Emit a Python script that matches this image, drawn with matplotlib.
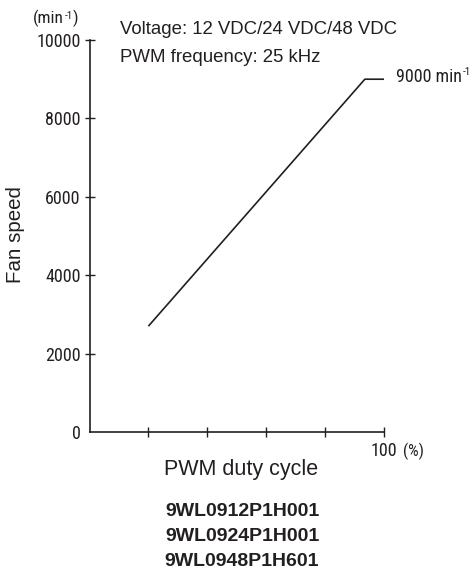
import matplotlib
matplotlib.use("Agg")
import matplotlib.pyplot as plt
from matplotlib import font_manager

# PWM duty cycle (%) vs fan speed (min^-1)
duty = [20, 93.5, 100]
speed = [2700, 9000, 9000]

yticks = [0, 2000, 4000, 6000, 8000, 10000]
xticks = [0, 20, 40, 60, 80, 100]
models = ["9WL0912P1H001", "9WL0924P1H001", "9WL0948P1H601"]

ink = "#231f20"
installed = {f.name for f in font_manager.fontManager.ttflist}
cond = [f for f in ["Roboto Condensed", "Archivo Narrow", "Liberation Sans Narrow"] if f in installed]
cond = cond[0] if cond else "DejaVu Sans"
plt.rcParams["font.family"] = ["Liberation Sans", "DejaVu Sans"]
ck = dict(fontfamily=cond, fontstretch="condensed", color=ink)

fig = plt.figure(figsize=(4.76, 5.71), dpi=100)
ax = fig.add_axes([89.5 / 476, 1 - 432 / 571, (384 - 89.5) / 476, (432 - 40) / 571])

ax.plot(duty, speed, color=ink, lw=1.2, solid_capstyle="butt")

ax.set_xlim(0, 100)
ax.set_ylim(0, 10000)
for s in ["top", "right"]:
    ax.spines[s].set_visible(False)
for s in ["left", "bottom"]:
    ax.spines[s].set_color(ink)
    ax.spines[s].set_linewidth(1.2)

ax.set_yticks(yticks)
ax.set_yticklabels([str(v) for v in yticks], fontsize=13, **ck)
ax.set_xticks(xticks)
ax.set_xticklabels([])
ax.tick_params(axis="both", direction="inout", length=7, width=1.0, color=ink)
ax.tick_params(axis="y", pad=3)
ax.yaxis.get_major_ticks()[0].tick1line.set_visible(False)
ax.xaxis.get_major_ticks()[0].tick1line.set_visible(False)

# x end label
ax.annotate("100", xy=(100, 0), xytext=(0, -14), textcoords="offset points",
            ha="center", va="center", fontsize=13, **ck)
ax.annotate("(%)", xy=(100, 0), xytext=(14, -14), textcoords="offset points",
            ha="left", va="center", fontsize=12, **ck)

# 9000 min-1 label
t9 = ax.annotate("9000 min", xy=(100, 9000), xytext=(9, 1.5), textcoords="offset points",
                 ha="left", va="center", fontsize=13, annotation_clip=False, **ck)
ax.annotate("-1", xy=(1, 1), xycoords=t9, xytext=(0.5, 0.5), textcoords="offset points",
            ha="left", va="top", fontsize=8, **ck)

# unit above y axis
tu = fig.text(33 / 476, 1 - 18 / 571, "(min", ha="left", va="center", fontsize=12.5, **ck)
tsup = ax.annotate("-1", xy=(1, 1), xycoords=tu, xytext=(0.3, -1), textcoords="offset points",
                   ha="left", va="top", fontsize=8, **ck)
ax.annotate(")", xy=(1, 0), xycoords=(tsup, tu), xytext=(0.3, 0), textcoords="offset points",
            ha="left", va="bottom", fontsize=12.5, **ck)

fig.text(120 / 476, 1 - 30 / 571, "Voltage: 12 VDC/24 VDC/48 VDC", ha="left", va="center",
         fontsize=13.4, color=ink)
fig.text(120 / 476, 1 - 57 / 571, "PWM frequency: 25 kHz", ha="left", va="center",
         fontsize=13.4, color=ink)

fig.text(16 / 476, 1 - 234.5 / 571, "Fan speed", rotation=90, ha="center", va="center",
         fontsize=14.8, color=ink)
fig.text(241.5 / 476, 1 - 469 / 571, "PWM duty cycle", ha="center", va="center",
         fontsize=15.5, color=ink)

for i, m in enumerate(models):
    fig.text(242 / 476, 1 - (511 + 25.5 * i) / 571, m, ha="center", va="center",
             fontsize=14, fontweight="bold", color=ink)

fig.savefig("out.png", dpi=100)
